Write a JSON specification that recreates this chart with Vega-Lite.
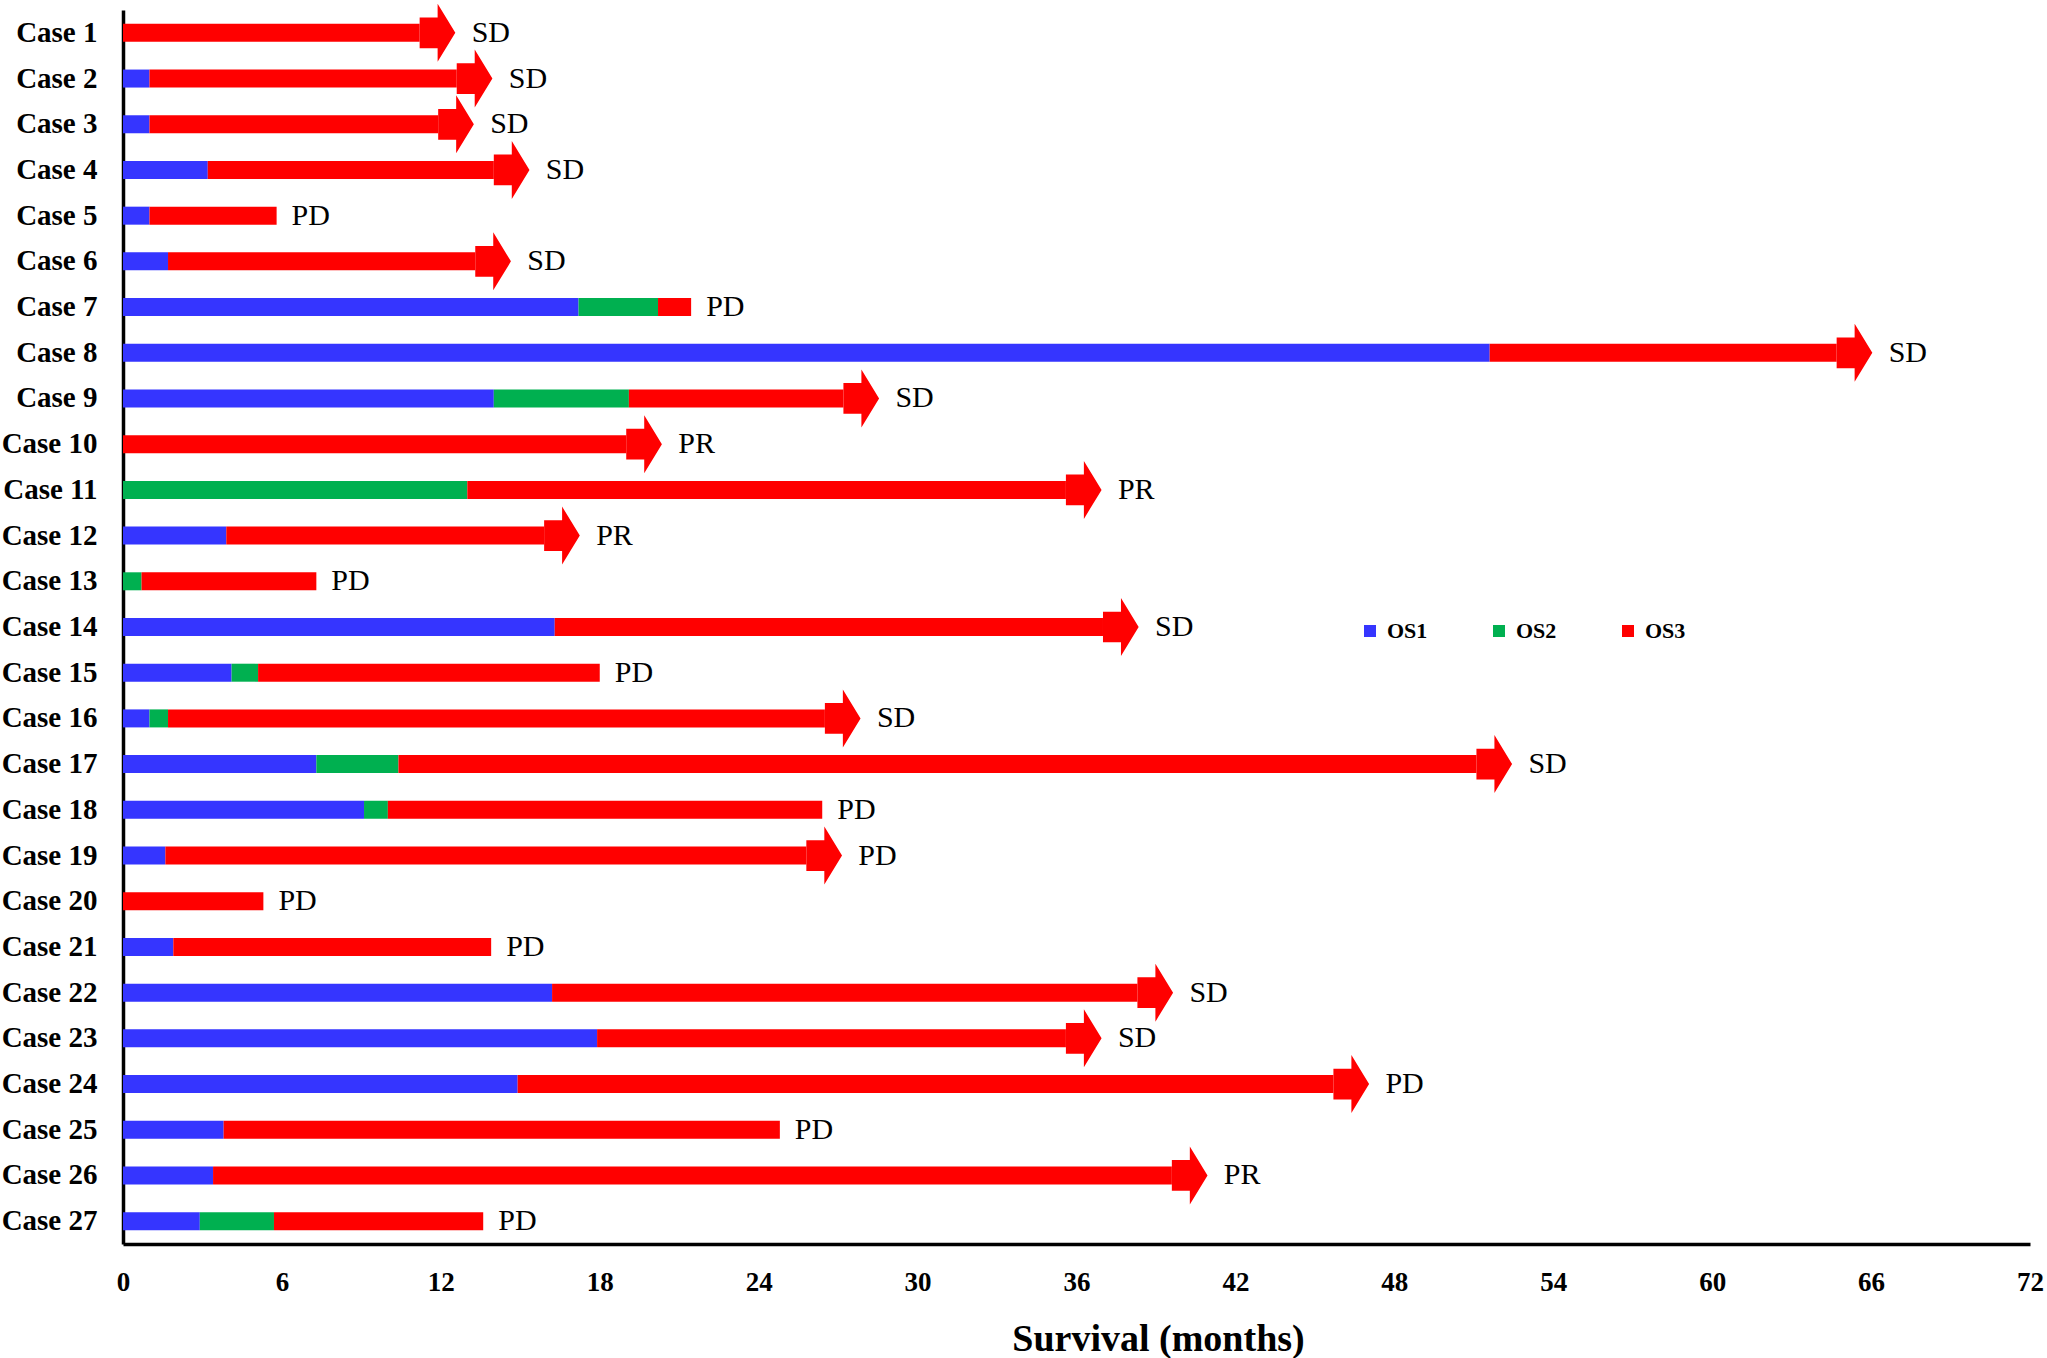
{
  "$schema": "https://vega.github.io/schema/vega-lite/v6.json",
  "autosize": {"type": "none"},
  "padding": {"left": 123, "top": 10, "right": 17, "bottom": 114},
  "width": 1907,
  "height": 1234,
  "background": "white",
  "config": {"view": {"stroke": null}, "font": "Liberation Serif"},
  "datasets": {
    "segments": [
      {"case": "Case 1", "period": "OS3", "start": 0, "end": 11.2},
      {"case": "Case 2", "period": "OS1", "start": 0, "end": 1.0},
      {"case": "Case 2", "period": "OS3", "start": 1.0, "end": 12.6},
      {"case": "Case 3", "period": "OS1", "start": 0, "end": 1.0},
      {"case": "Case 3", "period": "OS3", "start": 1.0, "end": 11.9},
      {"case": "Case 4", "period": "OS1", "start": 0, "end": 3.2},
      {"case": "Case 4", "period": "OS3", "start": 3.2, "end": 14.0},
      {"case": "Case 5", "period": "OS1", "start": 0, "end": 1.0},
      {"case": "Case 5", "period": "OS3", "start": 1.0, "end": 5.8},
      {"case": "Case 6", "period": "OS1", "start": 0, "end": 1.7},
      {"case": "Case 6", "period": "OS3", "start": 1.7, "end": 13.3},
      {"case": "Case 7", "period": "OS1", "start": 0, "end": 17.2},
      {"case": "Case 7", "period": "OS2", "start": 17.2, "end": 20.2},
      {"case": "Case 7", "period": "OS3", "start": 20.2, "end": 21.45},
      {"case": "Case 8", "period": "OS1", "start": 0, "end": 51.6},
      {"case": "Case 8", "period": "OS3", "start": 51.6, "end": 64.7},
      {"case": "Case 9", "period": "OS1", "start": 0, "end": 14.0},
      {"case": "Case 9", "period": "OS2", "start": 14.0, "end": 19.1},
      {"case": "Case 9", "period": "OS3", "start": 19.1, "end": 27.2},
      {"case": "Case 10", "period": "OS3", "start": 0, "end": 19.0},
      {"case": "Case 11", "period": "OS2", "start": 0, "end": 13.0},
      {"case": "Case 11", "period": "OS3", "start": 13.0, "end": 35.6},
      {"case": "Case 12", "period": "OS1", "start": 0, "end": 3.9},
      {"case": "Case 12", "period": "OS3", "start": 3.9, "end": 15.9},
      {"case": "Case 13", "period": "OS2", "start": 0, "end": 0.7},
      {"case": "Case 13", "period": "OS3", "start": 0.7, "end": 7.3},
      {"case": "Case 14", "period": "OS1", "start": 0, "end": 16.3},
      {"case": "Case 14", "period": "OS3", "start": 16.3, "end": 37.0},
      {"case": "Case 15", "period": "OS1", "start": 0, "end": 4.1},
      {"case": "Case 15", "period": "OS2", "start": 4.1, "end": 5.1},
      {"case": "Case 15", "period": "OS3", "start": 5.1, "end": 18.0},
      {"case": "Case 16", "period": "OS1", "start": 0, "end": 1.0},
      {"case": "Case 16", "period": "OS2", "start": 1.0, "end": 1.7},
      {"case": "Case 16", "period": "OS3", "start": 1.7, "end": 26.5},
      {"case": "Case 17", "period": "OS1", "start": 0, "end": 7.3},
      {"case": "Case 17", "period": "OS2", "start": 7.3, "end": 10.4},
      {"case": "Case 17", "period": "OS3", "start": 10.4, "end": 51.1},
      {"case": "Case 18", "period": "OS1", "start": 0, "end": 9.1},
      {"case": "Case 18", "period": "OS2", "start": 9.1, "end": 10.0},
      {"case": "Case 18", "period": "OS3", "start": 10.0, "end": 26.4},
      {"case": "Case 19", "period": "OS1", "start": 0, "end": 1.6},
      {"case": "Case 19", "period": "OS3", "start": 1.6, "end": 25.8},
      {"case": "Case 20", "period": "OS3", "start": 0, "end": 5.3},
      {"case": "Case 21", "period": "OS1", "start": 0, "end": 1.9},
      {"case": "Case 21", "period": "OS3", "start": 1.9, "end": 13.9},
      {"case": "Case 22", "period": "OS1", "start": 0, "end": 16.2},
      {"case": "Case 22", "period": "OS3", "start": 16.2, "end": 38.3},
      {"case": "Case 23", "period": "OS1", "start": 0, "end": 17.9},
      {"case": "Case 23", "period": "OS3", "start": 17.9, "end": 35.6},
      {"case": "Case 24", "period": "OS1", "start": 0, "end": 14.9},
      {"case": "Case 24", "period": "OS3", "start": 14.9, "end": 45.7},
      {"case": "Case 25", "period": "OS1", "start": 0, "end": 3.8},
      {"case": "Case 25", "period": "OS3", "start": 3.8, "end": 24.8},
      {"case": "Case 26", "period": "OS1", "start": 0, "end": 3.4},
      {"case": "Case 26", "period": "OS3", "start": 3.4, "end": 39.6},
      {"case": "Case 27", "period": "OS1", "start": 0, "end": 2.9},
      {"case": "Case 27", "period": "OS2", "start": 2.9, "end": 5.7},
      {"case": "Case 27", "period": "OS3", "start": 5.7, "end": 13.6}
    ],
    "outcomes": [
      {"case": "Case 1", "total": 11.2, "status": "SD", "arrow": true},
      {"case": "Case 2", "total": 12.6, "status": "SD", "arrow": true},
      {"case": "Case 3", "total": 11.9, "status": "SD", "arrow": true},
      {"case": "Case 4", "total": 14.0, "status": "SD", "arrow": true},
      {"case": "Case 5", "total": 5.8, "status": "PD", "arrow": false},
      {"case": "Case 6", "total": 13.3, "status": "SD", "arrow": true},
      {"case": "Case 7", "total": 21.45, "status": "PD", "arrow": false},
      {"case": "Case 8", "total": 64.7, "status": "SD", "arrow": true},
      {"case": "Case 9", "total": 27.2, "status": "SD", "arrow": true},
      {"case": "Case 10", "total": 19.0, "status": "PR", "arrow": true},
      {"case": "Case 11", "total": 35.6, "status": "PR", "arrow": true},
      {"case": "Case 12", "total": 15.9, "status": "PR", "arrow": true},
      {"case": "Case 13", "total": 7.3, "status": "PD", "arrow": false},
      {"case": "Case 14", "total": 37.0, "status": "SD", "arrow": true},
      {"case": "Case 15", "total": 18.0, "status": "PD", "arrow": false},
      {"case": "Case 16", "total": 26.5, "status": "SD", "arrow": true},
      {"case": "Case 17", "total": 51.1, "status": "SD", "arrow": true},
      {"case": "Case 18", "total": 26.4, "status": "PD", "arrow": false},
      {"case": "Case 19", "total": 25.8, "status": "PD", "arrow": true},
      {"case": "Case 20", "total": 5.3, "status": "PD", "arrow": false},
      {"case": "Case 21", "total": 13.9, "status": "PD", "arrow": false},
      {"case": "Case 22", "total": 38.3, "status": "SD", "arrow": true},
      {"case": "Case 23", "total": 35.6, "status": "SD", "arrow": true},
      {"case": "Case 24", "total": 45.7, "status": "PD", "arrow": true},
      {"case": "Case 25", "total": 24.8, "status": "PD", "arrow": false},
      {"case": "Case 26", "total": 39.6, "status": "PR", "arrow": true},
      {"case": "Case 27", "total": 13.6, "status": "PD", "arrow": false}
    ]
  },
  "layer": [
    {
      "data": {"name": "segments"},
      "mark": {"type": "bar", "size": 18},
      "encoding": {
        "y": {
          "field": "case",
          "type": "nominal",
          "scale": {
            "domain": ["Case 1", "Case 2", "Case 3", "Case 4", "Case 5", "Case 6", "Case 7", "Case 8", "Case 9", "Case 10", "Case 11", "Case 12", "Case 13", "Case 14", "Case 15", "Case 16", "Case 17", "Case 18", "Case 19", "Case 20", "Case 21", "Case 22", "Case 23", "Case 24", "Case 25", "Case 26", "Case 27"],
            "padding": 0
          },
          "axis": {
            "title": null,
            "grid": false,
            "ticks": false,
            "tickSize": 0,
            "domainColor": "black",
            "domainWidth": 3.5,
            "labelPadding": 26,
            "labelFont": "Liberation Serif",
            "labelFontSize": 29,
            "labelFontWeight": "bold",
            "labelColor": "black"
          }
        },
        "x": {
          "field": "start",
          "type": "quantitative",
          "scale": {"domain": [0, 72], "nice": false},
          "axis": {
            "values": [0, 6, 12, 18, 24, 30, 36, 42, 48, 54, 60, 66, 72],
            "grid": false,
            "ticks": false,
            "tickSize": 0,
            "domainColor": "black",
            "domainWidth": 3.5,
            "labelFont": "Liberation Serif",
            "labelFontSize": 27,
            "labelFontWeight": "bold",
            "labelColor": "black",
            "labelBaseline": "alphabetic",
            "labelPadding": 46,
            "labelFlush": false,
            "labelOverlap": false,
            "title": "Survival (months)",
            "titleFont": "Liberation Serif",
            "titleFontSize": 38,
            "titleFontWeight": "bold",
            "titleColor": "black",
            "titleAlign": "center",
            "titleBaseline": "alphabetic",
            "titleX": 1035,
            "titleY": 106
          }
        },
        "x2": {"field": "end"},
        "color": {
          "field": "period",
          "type": "nominal",
          "scale": {"domain": ["OS1", "OS2", "OS3"], "range": ["#3535FF", "#00B050", "#FF0000"]},
          "legend": {
            "title": null,
            "orient": "none",
            "direction": "horizontal",
            "legendX": 1236,
            "legendY": 610,
            "padding": 0,
            "symbolType": "square",
            "symbolSize": 144,
            "symbolStrokeWidth": 0,
            "labelFont": "Liberation Serif",
            "labelFontSize": 22,
            "labelFontWeight": "bold",
            "labelColor": "black",
            "labelOffset": 6,
            "columnPadding": 60
          }
        }
      }
    },
    {
      "data": {"name": "outcomes"},
      "transform": [{"filter": "datum.arrow"}],
      "mark": {
        "type": "point",
        "shape": "M0,-0.53L0.62,-0.53L0.62,-1L1.23,0L0.62,1L0.62,0.53L0,0.53Z",
        "filled": true,
        "color": "#FF0000",
        "opacity": 1,
        "size": 3364,
        "strokeWidth": 0
      },
      "encoding": {
        "x": {"field": "total", "type": "quantitative"},
        "y": {"field": "case", "type": "nominal"}
      }
    },
    {
      "data": {"name": "outcomes"},
      "transform": [{"filter": "datum.arrow"}],
      "mark": {"type": "text", "align": "left", "baseline": "middle", "dx": 52, "font": "Liberation Serif", "fontSize": 30, "color": "black"},
      "encoding": {
        "x": {"field": "total", "type": "quantitative"},
        "y": {"field": "case", "type": "nominal"},
        "text": {"field": "status"}
      }
    },
    {
      "data": {"name": "outcomes"},
      "transform": [{"filter": "!datum.arrow"}],
      "mark": {"type": "text", "align": "left", "baseline": "middle", "dx": 15, "font": "Liberation Serif", "fontSize": 30, "color": "black"},
      "encoding": {
        "x": {"field": "total", "type": "quantitative"},
        "y": {"field": "case", "type": "nominal"},
        "text": {"field": "status"}
      }
    }
  ]
}
